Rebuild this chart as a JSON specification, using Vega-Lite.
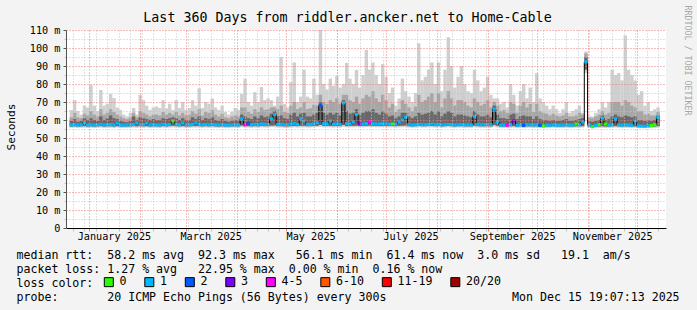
{
  "$schema": "https://vega.github.io/schema/vega-lite/v6.json",
  "width": 600,
  "height": 198,
  "autosize": {"type": "none"},
  "padding": {"left": 66, "top": 30, "right": 31, "bottom": 82},
  "background": "#f3f3f3",
  "config": {
    "view": {"fill": "#ffffff", "stroke": null},
    "font": "DejaVu Sans Mono"
  },
  "title": {
    "text": "Last 360 Days from riddler.ancker.net to Home-Cable",
    "font": "DejaVu Sans Mono",
    "fontSize": 13.3,
    "fontWeight": "normal",
    "color": "#000000",
    "anchor": "middle",
    "frame": "group",
    "dx": -18.5,
    "dy": 23,
    "offset": 4
  },
  "data": {
    "values": [
      {"t":"2024-12-21","mn":55.7,"lo":56.4,"md":57.3,"q3":59.5,"q9":61.5,"mx":65.5,"l":"1"},
      {"t":"2024-12-23","mn":55.8,"lo":56.5,"md":57.4,"q3":60.5,"q9":64,"mx":71,"l":"1"},
      {"t":"2024-12-25","mn":55.6,"lo":56.4,"md":57.2,"q3":59,"q9":61.5,"mx":65,"l":"1"},
      {"t":"2024-12-27","mn":55.7,"lo":56.5,"md":57.3,"q3":59.5,"q9":61,"mx":63,"l":"1"},
      {"t":"2024-12-29","mn":55.8,"lo":56.6,"md":58.5,"q3":61,"q9":63.5,"mx":68,"l":"1"},
      {"t":"2024-12-31","mn":55.6,"lo":56.4,"md":57.3,"q3":60,"q9":62.5,"mx":67,"l":"1"},
      {"t":"2025-01-02","mn":55.7,"lo":56.5,"md":57.4,"q3":61,"q9":65,"mx":79.4,"l":"1"},
      {"t":"2025-01-04","mn":55.6,"lo":56.4,"md":57.2,"q3":60,"q9":63,"mx":68,"l":"1"},
      {"t":"2025-01-06","mn":55.7,"lo":56.5,"md":57.3,"q3":59.5,"q9":62,"mx":65,"l":"1"},
      {"t":"2025-01-08","mn":55.8,"lo":56.6,"md":57.6,"q3":62,"q9":66,"mx":76.7,"l":"1"},
      {"t":"2025-01-10","mn":55.6,"lo":56.4,"md":57.3,"q3":60,"q9":63,"mx":68,"l":"1"},
      {"t":"2025-01-12","mn":55.7,"lo":56.5,"md":57.4,"q3":61,"q9":64,"mx":69,"l":"1"},
      {"t":"2025-01-14","mn":55.7,"lo":56.5,"md":57.5,"q3":62.5,"q9":66,"mx":74.4,"l":"1"},
      {"t":"2025-01-16","mn":55.6,"lo":56.4,"md":57.3,"q3":61,"q9":64.5,"mx":72.2,"l":"1"},
      {"t":"2025-01-18","mn":55.8,"lo":56.6,"md":58.2,"q3":60.5,"q9":63,"mx":67,"l":"1"},
      {"t":"2025-01-20","mn":55.6,"lo":56.4,"md":57.2,"q3":59.5,"q9":62,"mx":65.6,"l":"1"},
      {"t":"2025-01-22","mn":55.6,"lo":56.4,"md":57.2,"q3":59,"q9":61,"mx":63,"l":"1"},
      {"t":"2025-01-24","mn":55.6,"lo":56.4,"md":57.3,"q3":58.8,"q9":60.5,"mx":62,"l":"1"},
      {"t":"2025-01-26","mn":55.7,"lo":56.5,"md":57.3,"q3":59.5,"q9":61.5,"mx":64,"l":"1"},
      {"t":"2025-01-28","mn":55.8,"lo":56.6,"md":57.5,"q3":62,"q9":64,"mx":66.7,"l":"1"},
      {"t":"2025-01-30","mn":55.7,"lo":56.5,"md":58.4,"q3":60,"q9":61.5,"mx":63,"l":"1"},
      {"t":"2025-02-01","mn":55.8,"lo":56.6,"md":57.5,"q3":61.5,"q9":65,"mx":73.9,"l":"1"},
      {"t":"2025-02-03","mn":55.7,"lo":56.5,"md":57.4,"q3":61,"q9":64,"mx":71,"l":"1"},
      {"t":"2025-02-05","mn":55.8,"lo":56.6,"md":58.3,"q3":60.5,"q9":63,"mx":68,"l":"1"},
      {"t":"2025-02-07","mn":55.6,"lo":56.4,"md":57.3,"q3":60,"q9":62,"mx":65.6,"l":"1"},
      {"t":"2025-02-09","mn":55.7,"lo":56.5,"md":57.4,"q3":60.5,"q9":63,"mx":67,"l":"1"},
      {"t":"2025-02-11","mn":55.7,"lo":56.5,"md":57.3,"q3":60,"q9":63,"mx":67.5,"l":"1"},
      {"t":"2025-02-13","mn":55.6,"lo":56.4,"md":57.3,"q3":60,"q9":62.5,"mx":66.7,"l":"1"},
      {"t":"2025-02-15","mn":55.8,"lo":56.6,"md":57.6,"q3":61,"q9":64.5,"mx":71,"l":"1"},
      {"t":"2025-02-17","mn":55.7,"lo":56.5,"md":57.3,"q3":60.5,"q9":63,"mx":66.5,"l":"1"},
      {"t":"2025-02-19","mn":55.8,"lo":56.6,"md":57.5,"q3":61,"q9":64,"mx":69,"l":"1"},
      {"t":"2025-02-21","mn":55.9,"lo":56.8,"md":59.5,"q3":61.5,"q9":63,"mx":65.6,"l":"0"},
      {"t":"2025-02-23","mn":55.8,"lo":56.6,"md":57.6,"q3":61,"q9":64.5,"mx":71,"l":"1"},
      {"t":"2025-02-25","mn":55.7,"lo":56.5,"md":57.4,"q3":60,"q9":62.5,"mx":66.7,"l":"1"},
      {"t":"2025-02-27","mn":55.8,"lo":56.6,"md":58.4,"q3":61,"q9":64,"mx":70,"l":"1"},
      {"t":"2025-03-01","mn":55.7,"lo":56.5,"md":57.3,"q3":60,"q9":62.5,"mx":65.6,"l":"1"},
      {"t":"2025-03-03","mn":55.7,"lo":56.5,"md":57.3,"q3":60,"q9":63,"mx":66.7,"l":"1"},
      {"t":"2025-03-05","mn":55.8,"lo":56.6,"md":57.6,"q3":61.5,"q9":65,"mx":71,"l":"1"},
      {"t":"2025-03-07","mn":55.8,"lo":56.6,"md":58.4,"q3":60.5,"q9":63.5,"mx":68,"l":"1"},
      {"t":"2025-03-09","mn":55.8,"lo":56.6,"md":57.6,"q3":62,"q9":66,"mx":77.6,"l":"1"},
      {"t":"2025-03-11","mn":55.7,"lo":56.5,"md":57.3,"q3":60,"q9":62.5,"mx":66.7,"l":"1"},
      {"t":"2025-03-13","mn":55.8,"lo":56.6,"md":57.5,"q3":61,"q9":64.5,"mx":70,"l":"1"},
      {"t":"2025-03-15","mn":55.7,"lo":56.5,"md":57.4,"q3":60.5,"q9":64,"mx":69,"l":"1"},
      {"t":"2025-03-17","mn":55.8,"lo":56.6,"md":57.6,"q3":61.5,"q9":65.5,"mx":72,"l":"1"},
      {"t":"2025-03-19","mn":55.7,"lo":56.5,"md":57.4,"q3":60,"q9":63,"mx":67,"l":"1"},
      {"t":"2025-03-21","mn":55.6,"lo":56.4,"md":57.3,"q3":59.5,"q9":62,"mx":65.6,"l":"1"},
      {"t":"2025-03-23","mn":55.7,"lo":56.5,"md":57.4,"q3":60.5,"q9":63.5,"mx":68,"l":"1"},
      {"t":"2025-03-25","mn":55.6,"lo":56.4,"md":57.2,"q3":59.5,"q9":61.5,"mx":64.5,"l":"1"},
      {"t":"2025-03-27","mn":55.6,"lo":56.4,"md":57.2,"q3":59,"q9":61,"mx":63,"l":"1"},
      {"t":"2025-03-29","mn":55.7,"lo":56.5,"md":57.3,"q3":59.5,"q9":62,"mx":64.5,"l":"1"},
      {"t":"2025-03-31","mn":55.7,"lo":56.5,"md":57.4,"q3":60,"q9":62.5,"mx":66.7,"l":"1"},
      {"t":"2025-04-02","mn":55.7,"lo":56.5,"md":57.3,"q3":59.5,"q9":62,"mx":65.6,"l":"1"},
      {"t":"2025-04-04","mn":56,"lo":57,"md":60.5,"q3":63,"q9":67,"mx":74.4,"l":"1"},
      {"t":"2025-04-06","mn":55.8,"lo":56.6,"md":57.3,"q3":62,"q9":67,"mx":83,"l":"4-5"},
      {"t":"2025-04-08","mn":55.8,"lo":56.6,"md":58.3,"q3":61,"q9":64.5,"mx":70,"l":"2"},
      {"t":"2025-04-10","mn":55.7,"lo":56.5,"md":57.4,"q3":60.5,"q9":63.5,"mx":68,"l":"1"},
      {"t":"2025-04-12","mn":55.8,"lo":56.6,"md":57.6,"q3":62,"q9":66,"mx":75.5,"l":"1"},
      {"t":"2025-04-14","mn":55.7,"lo":56.5,"md":57.4,"q3":61,"q9":64.5,"mx":70,"l":"1"},
      {"t":"2025-04-16","mn":55.9,"lo":56.7,"md":57.8,"q3":62.5,"q9":67,"mx":78.3,"l":"1"},
      {"t":"2025-04-18","mn":55.8,"lo":56.6,"md":57.6,"q3":61.5,"q9":65.5,"mx":71,"l":"1"},
      {"t":"2025-04-20","mn":55.8,"lo":56.6,"md":57.5,"q3":62,"q9":66,"mx":72,"l":"1"},
      {"t":"2025-04-22","mn":56,"lo":56.9,"md":60.6,"q3":63.5,"q9":67,"mx":71,"l":"1"},
      {"t":"2025-04-24","mn":56,"lo":57,"md":63,"q3":65,"q9":67,"mx":68,"l":"1"},
      {"t":"2025-04-26","mn":55.8,"lo":56.6,"md":57.6,"q3":62,"q9":66,"mx":73,"l":"1"},
      {"t":"2025-04-28","mn":55.8,"lo":56.6,"md":57.6,"q3":62.5,"q9":68,"mx":95,"l":"1"},
      {"t":"2025-04-30","mn":55.7,"lo":56.5,"md":57.4,"q3":61,"q9":64.5,"mx":69,"l":"1"},
      {"t":"2025-05-02","mn":55.7,"lo":56.5,"md":57.4,"q3":60.5,"q9":64,"mx":67,"l":"1"},
      {"t":"2025-05-04","mn":55.8,"lo":56.6,"md":57.8,"q3":63,"q9":68,"mx":81,"l":"1"},
      {"t":"2025-05-06","mn":55.9,"lo":56.7,"md":58,"q3":64,"q9":70,"mx":92,"l":"1"},
      {"t":"2025-05-08","mn":55.8,"lo":56.6,"md":57.6,"q3":62,"q9":66,"mx":70,"l":"1"},
      {"t":"2025-05-10","mn":55.9,"lo":56.8,"md":60.6,"q3":63.5,"q9":67,"mx":73,"l":"1"},
      {"t":"2025-05-12","mn":55.9,"lo":56.8,"md":59.5,"q3":64,"q9":70,"mx":88,"l":"1"},
      {"t":"2025-05-14","mn":55.8,"lo":56.6,"md":57.6,"q3":62,"q9":66,"mx":73,"l":"1"},
      {"t":"2025-05-16","mn":55.8,"lo":56.6,"md":57.5,"q3":62,"q9":66.5,"mx":72,"l":"1"},
      {"t":"2025-05-18","mn":55.9,"lo":56.7,"md":57.8,"q3":63,"q9":68.5,"mx":83,"l":"1"},
      {"t":"2025-05-20","mn":56,"lo":56.8,"md":58.5,"q3":64,"q9":68,"mx":74,"l":"1"},
      {"t":"2025-05-22","mn":56.2,"lo":57.2,"md":68,"q3":70,"q9":74,"mx":110.5,"l":"2"},
      {"t":"2025-05-24","mn":55.9,"lo":56.8,"md":58,"q3":64,"q9":70,"mx":80,"l":"1"},
      {"t":"2025-05-26","mn":55.9,"lo":56.7,"md":57.8,"q3":63,"q9":69,"mx":77,"l":"1"},
      {"t":"2025-05-28","mn":55.9,"lo":56.7,"md":59.5,"q3":64,"q9":71,"mx":83,"l":"1"},
      {"t":"2025-05-30","mn":55.8,"lo":56.6,"md":57.6,"q3":63,"q9":70,"mx":79,"l":"1"},
      {"t":"2025-06-01","mn":55.9,"lo":56.7,"md":57.8,"q3":64,"q9":72,"mx":84.5,"l":"1"},
      {"t":"2025-06-03","mn":55.8,"lo":56.6,"md":57.6,"q3":62.5,"q9":69,"mx":78,"l":"1"},
      {"t":"2025-06-05","mn":56.2,"lo":57.2,"md":69.5,"q3":71,"q9":74,"mx":80,"l":"1"},
      {"t":"2025-06-07","mn":55.9,"lo":56.7,"md":58,"q3":65,"q9":74,"mx":91.7,"l":"1"},
      {"t":"2025-06-09","mn":55.9,"lo":56.7,"md":57.8,"q3":63.5,"q9":71,"mx":83,"l":"1"},
      {"t":"2025-06-11","mn":55.9,"lo":56.8,"md":59,"q3":64,"q9":70,"mx":80,"l":"1"},
      {"t":"2025-06-13","mn":56,"lo":56.9,"md":63,"q3":66,"q9":73,"mx":87.8,"l":"1"},
      {"t":"2025-06-15","mn":55.9,"lo":56.7,"md":57.9,"q3":63,"q9":69,"mx":78,"l":"3"},
      {"t":"2025-06-17","mn":55.9,"lo":56.7,"md":57.8,"q3":64,"q9":72,"mx":85,"l":"1"},
      {"t":"2025-06-19","mn":56,"lo":56.8,"md":58,"q3":65,"q9":74,"mx":99,"l":"1"},
      {"t":"2025-06-21","mn":56,"lo":56.9,"md":59,"q3":65,"q9":73,"mx":88,"l":"4-5"},
      {"t":"2025-06-23","mn":56,"lo":56.8,"md":58,"q3":66,"q9":76,"mx":92,"l":"1"},
      {"t":"2025-06-25","mn":55.9,"lo":56.7,"md":57.8,"q3":64,"q9":72,"mx":85,"l":"1"},
      {"t":"2025-06-27","mn":55.9,"lo":56.7,"md":57.8,"q3":63,"q9":70,"mx":80,"l":"1"},
      {"t":"2025-06-29","mn":56,"lo":56.8,"md":58,"q3":65,"q9":74,"mx":91,"l":"1"},
      {"t":"2025-07-01","mn":55.9,"lo":56.7,"md":57.8,"q3":63.5,"q9":71,"mx":84,"l":"1"},
      {"t":"2025-07-03","mn":55.9,"lo":56.7,"md":57.7,"q3":62,"q9":67,"mx":75,"l":"1"},
      {"t":"2025-07-05","mn":55.9,"lo":56.7,"md":57.8,"q3":62.5,"q9":69,"mx":78,"l":"0"},
      {"t":"2025-07-07","mn":55.8,"lo":56.6,"md":57.6,"q3":61,"q9":64.5,"mx":68,"l":"1"},
      {"t":"2025-07-09","mn":55.9,"lo":56.8,"md":59,"q3":62,"q9":66,"mx":72,"l":"1"},
      {"t":"2025-07-11","mn":56,"lo":56.9,"md":60,"q3":64,"q9":71,"mx":83,"l":"1"},
      {"t":"2025-07-13","mn":56,"lo":57,"md":61.5,"q3":64,"q9":69,"mx":76,"l":"1"},
      {"t":"2025-07-15","mn":55.8,"lo":56.6,"md":57.4,"q3":62,"q9":67,"mx":73,"l":"1"},
      {"t":"2025-07-17","mn":55.7,"lo":56.5,"md":57.2,"q3":61,"q9":65,"mx":70,"l":"1"},
      {"t":"2025-07-19","mn":55.8,"lo":56.6,"md":57.3,"q3":62,"q9":67.5,"mx":75,"l":"1"},
      {"t":"2025-07-21","mn":55.9,"lo":56.7,"md":57.5,"q3":64,"q9":74,"mx":102.6,"l":"1"},
      {"t":"2025-07-23","mn":55.8,"lo":56.6,"md":57.4,"q3":63,"q9":70,"mx":82,"l":"1"},
      {"t":"2025-07-25","mn":55.8,"lo":56.6,"md":57.4,"q3":63.5,"q9":71,"mx":84,"l":"1"},
      {"t":"2025-07-27","mn":55.9,"lo":56.7,"md":57.6,"q3":64,"q9":73,"mx":88,"l":"1"},
      {"t":"2025-07-29","mn":55.9,"lo":56.7,"md":57.8,"q3":65,"q9":75,"mx":92,"l":"1"},
      {"t":"2025-07-31","mn":55.8,"lo":56.6,"md":57.4,"q3":63,"q9":70,"mx":80,"l":"1"},
      {"t":"2025-08-02","mn":55.9,"lo":56.7,"md":57.6,"q3":65,"q9":75,"mx":92,"l":"1"},
      {"t":"2025-08-04","mn":55.7,"lo":56.5,"md":57.2,"q3":62,"q9":67,"mx":76,"l":"1"},
      {"t":"2025-08-06","mn":55.8,"lo":56.6,"md":57.4,"q3":63.5,"q9":72,"mx":88,"l":"1"},
      {"t":"2025-08-08","mn":55.9,"lo":56.7,"md":57.5,"q3":65,"q9":76,"mx":106,"l":"1"},
      {"t":"2025-08-10","mn":55.8,"lo":56.6,"md":57.4,"q3":64,"q9":72,"mx":90,"l":"1"},
      {"t":"2025-08-12","mn":55.7,"lo":56.5,"md":57.2,"q3":62,"q9":68,"mx":78,"l":"1"},
      {"t":"2025-08-14","mn":55.8,"lo":56.6,"md":57.3,"q3":63,"q9":71,"mx":84,"l":"1"},
      {"t":"2025-08-16","mn":55.8,"lo":56.6,"md":57.4,"q3":63,"q9":71,"mx":90,"l":"1"},
      {"t":"2025-08-18","mn":55.7,"lo":56.5,"md":57.3,"q3":62.5,"q9":70,"mx":80,"l":"1"},
      {"t":"2025-08-20","mn":55.7,"lo":56.5,"md":57.4,"q3":62,"q9":68,"mx":76,"l":"1"},
      {"t":"2025-08-22","mn":55.7,"lo":56.5,"md":57.3,"q3":61.5,"q9":67,"mx":75,"l":"1"},
      {"t":"2025-08-24","mn":56,"lo":56.9,"md":62,"q3":65,"q9":72,"mx":88,"l":"1"},
      {"t":"2025-08-26","mn":55.8,"lo":56.6,"md":57.6,"q3":63,"q9":70,"mx":82,"l":"1"},
      {"t":"2025-08-28","mn":55.7,"lo":56.5,"md":57.4,"q3":62,"q9":68,"mx":76,"l":"1"},
      {"t":"2025-08-30","mn":55.7,"lo":56.5,"md":57.4,"q3":62,"q9":69,"mx":78,"l":"1"},
      {"t":"2025-09-01","mn":55.8,"lo":56.6,"md":57.5,"q3":63,"q9":71,"mx":84,"l":"1"},
      {"t":"2025-09-03","mn":55.7,"lo":56.5,"md":57.4,"q3":61.5,"q9":67,"mx":74,"l":"1"},
      {"t":"2025-09-05","mn":56.2,"lo":57.2,"md":66,"q3":68,"q9":70,"mx":72,"l":"1"},
      {"t":"2025-09-07","mn":55.9,"lo":56.8,"md":59,"q3":63,"q9":68,"mx":72,"l":"1"},
      {"t":"2025-09-09","mn":55.6,"lo":56.4,"md":57.1,"q3":61,"q9":65,"mx":69,"l":"1"},
      {"t":"2025-09-11","mn":55.6,"lo":56.4,"md":57.2,"q3":61,"q9":65.5,"mx":70,"l":"1"},
      {"t":"2025-09-13","mn":55.6,"lo":56.4,"md":57.1,"q3":60.5,"q9":64,"mx":67,"l":"4-5"},
      {"t":"2025-09-15","mn":55.7,"lo":56.5,"md":57.4,"q3":63,"q9":70,"mx":80,"l":"1"},
      {"t":"2025-09-17","mn":55.8,"lo":56.6,"md":59.5,"q3":63.5,"q9":69,"mx":74,"l":"3"},
      {"t":"2025-09-19","mn":55.6,"lo":56.4,"md":57,"q3":60.5,"q9":64,"mx":68,"l":"1"},
      {"t":"2025-09-21","mn":55.7,"lo":56.5,"md":57.3,"q3":62,"q9":68,"mx":76,"l":"1"},
      {"t":"2025-09-23","mn":55.6,"lo":56.4,"md":57,"q3":62.5,"q9":70,"mx":80,"l":"2"},
      {"t":"2025-09-25","mn":55.7,"lo":56.5,"md":57.4,"q3":62,"q9":67,"mx":72,"l":"1"},
      {"t":"2025-09-27","mn":55.7,"lo":56.5,"md":57.3,"q3":62,"q9":69,"mx":78,"l":"1"},
      {"t":"2025-09-29","mn":55.6,"lo":56.4,"md":57.2,"q3":60.5,"q9":64.5,"mx":70,"l":"1"},
      {"t":"2025-10-01","mn":55.7,"lo":56.5,"md":57.4,"q3":62,"q9":69,"mx":86,"l":"1"},
      {"t":"2025-10-03","mn":55.6,"lo":56.3,"md":57,"q3":60.5,"q9":65,"mx":72,"l":"2"},
      {"t":"2025-10-05","mn":55.5,"lo":56.2,"md":56.6,"q3":60,"q9":64,"mx":70,"l":"0"},
      {"t":"2025-10-07","mn":55.6,"lo":56.4,"md":57.2,"q3":60,"q9":63.5,"mx":68,"l":"1"},
      {"t":"2025-10-09","mn":55.6,"lo":56.4,"md":57.1,"q3":59.5,"q9":62.5,"mx":66,"l":"1"},
      {"t":"2025-10-11","mn":55.7,"lo":56.5,"md":57.3,"q3":60,"q9":63.5,"mx":68,"l":"1"},
      {"t":"2025-10-13","mn":55.6,"lo":56.4,"md":57.2,"q3":59.5,"q9":62.5,"mx":66,"l":"1"},
      {"t":"2025-10-15","mn":55.6,"lo":56.4,"md":57.2,"q3":59.5,"q9":62,"mx":64,"l":"1"},
      {"t":"2025-10-17","mn":55.6,"lo":56.4,"md":57.2,"q3":60,"q9":62.5,"mx":66,"l":"1"},
      {"t":"2025-10-19","mn":55.7,"lo":56.5,"md":57.4,"q3":60.5,"q9":64,"mx":70,"l":"1"},
      {"t":"2025-10-21","mn":55.6,"lo":56.4,"md":57.2,"q3":59.5,"q9":62,"mx":64,"l":"1"},
      {"t":"2025-10-23","mn":55.6,"lo":56.4,"md":57.2,"q3":59.5,"q9":62,"mx":65,"l":"1"},
      {"t":"2025-10-25","mn":55.7,"lo":56.5,"md":57.8,"q3":60,"q9":62.5,"mx":66,"l":"0"},
      {"t":"2025-10-27","mn":55.7,"lo":56.5,"md":57.3,"q3":60.5,"q9":64,"mx":68,"l":"1"},
      {"t":"2025-10-29","mn":55.8,"lo":56.6,"md":59,"q3":61,"q9":63,"mx":64,"l":"1"},
      {"t":"2025-10-31","mn":86,"lo":88,"md":92.3,"q3":95,"q9":97,"mx":98,"l":"1"},
      {"t":"2025-11-02","mn":55.6,"lo":56.4,"md":57.2,"q3":59.5,"q9":61.5,"mx":62,"l":"1"},
      {"t":"2025-11-04","mn":55.4,"lo":56,"md":56.3,"q3":59,"q9":61,"mx":62,"l":"0"},
      {"t":"2025-11-06","mn":55.5,"lo":56.3,"md":57,"q3":59.5,"q9":62,"mx":64,"l":"1"},
      {"t":"2025-11-08","mn":55.6,"lo":56.4,"md":57.5,"q3":60,"q9":63,"mx":66,"l":"0"},
      {"t":"2025-11-10","mn":55.7,"lo":56.5,"md":61,"q3":62.5,"q9":65,"mx":70,"l":"1"},
      {"t":"2025-11-12","mn":55.6,"lo":56.4,"md":57.8,"q3":60,"q9":63,"mx":67,"l":"0"},
      {"t":"2025-11-14","mn":55.6,"lo":56.4,"md":57.2,"q3":60.5,"q9":64,"mx":70,"l":"1"},
      {"t":"2025-11-16","mn":55.7,"lo":56.5,"md":57.3,"q3":62,"q9":70,"mx":88,"l":"1"},
      {"t":"2025-11-18","mn":55.8,"lo":56.6,"md":60.5,"q3":63,"q9":70,"mx":85,"l":"1"},
      {"t":"2025-11-20","mn":55.7,"lo":56.5,"md":57.3,"q3":62,"q9":70,"mx":86,"l":"1"},
      {"t":"2025-11-22","mn":55.6,"lo":56.4,"md":57.2,"q3":61.5,"q9":68,"mx":82,"l":"1"},
      {"t":"2025-11-24","mn":55.7,"lo":56.5,"md":57.3,"q3":62.5,"q9":71,"mx":107,"l":"1"},
      {"t":"2025-11-26","mn":55.7,"lo":56.5,"md":57.2,"q3":62,"q9":70,"mx":88,"l":"1"},
      {"t":"2025-11-28","mn":55.6,"lo":56.4,"md":57.1,"q3":61.5,"q9":68,"mx":85,"l":"1"},
      {"t":"2025-11-30","mn":55.7,"lo":56.5,"md":59.5,"q3":62,"q9":67,"mx":82,"l":"1"},
      {"t":"2025-12-02","mn":55.5,"lo":56.2,"md":56.7,"q3":60,"q9":65,"mx":74,"l":"1"},
      {"t":"2025-12-04","mn":55.5,"lo":56.2,"md":56.6,"q3":60,"q9":65,"mx":76,"l":"1"},
      {"t":"2025-12-06","mn":55.4,"lo":56.1,"md":56.5,"q3":59.5,"q9":63,"mx":68,"l":"1"},
      {"t":"2025-12-08","mn":55.5,"lo":56.2,"md":56.7,"q3":60,"q9":63.5,"mx":70,"l":"1"},
      {"t":"2025-12-10","mn":55.5,"lo":56.3,"md":57,"q3":59.5,"q9":62.5,"mx":65,"l":"0"},
      {"t":"2025-12-12","mn":55.6,"lo":56.4,"md":57.4,"q3":60,"q9":62.5,"mx":66,"l":"0"},
      {"t":"2025-12-14","mn":55.8,"lo":56.6,"md":61.4,"q3":62.5,"q9":64.5,"mx":67,"l":"1"}
    ]
  },
  "layer": [
    {
      "mark": {"type": "bar", "size": 3.4, "color": "#cfcfcf", "clip": true},
      "encoding": {
        "x": {
          "field": "t", "type": "temporal",
          "scale": {"type": "utc", "nice": false, "domain": [
            {"year": 2024, "month": 12, "date": 20, "hours": 19, "minutes": 7, "utc": true},
            {"year": 2025, "month": 12, "date": 15, "hours": 19, "minutes": 7, "utc": true}
          ]},
          "axis": {
            "orient": "bottom", "grid": true, "gridColor": "#c4c4c4", "gridDash": [1, 2],
            "tickCount": {"interval": "week", "step": 1},
            "labels": false, "ticks": true, "tickSize": 3, "tickColor": "#c4c4c4",
            "domain": false, "title": null, "zindex": 1
          }
        },
        "y": {
          "field": "mn", "type": "quantitative",
          "scale": {"domain": [0, 110], "nice": false},
          "axis": {
            "orient": "left", "grid": true, "gridColor": "#c4c4c4", "gridDash": [1, 2],
            "values": [5, 15, 25, 35, 45, 55, 65, 75, 85, 95, 105],
            "labels": false, "ticks": true, "tickSize": 2, "tickColor": "#c4c4c4",
            "domain": false, "title": null, "zindex": 1
          }
        },
        "y2": {"field": "mx"}
      }
    },
    {
      "mark": {"type": "bar", "size": 3.4, "color": "#a6a6a6", "clip": true},
      "encoding": {
        "x": {
          "field": "t", "type": "temporal",
          "axis": {
            "orient": "bottom", "grid": true, "gridColor": "#f07878", "gridDash": [1, 2],
            "tickCount": {"interval": "month", "step": 1},
            "labels": false, "ticks": true, "tickSize": 3, "tickColor": "#f07878",
            "domain": false, "title": null, "zindex": 1
          }
        },
        "y": {
          "field": "lo", "type": "quantitative",
          "axis": {
            "orient": "left", "grid": true, "gridColor": "#f07878", "gridDash": [1, 2],
            "values": [0, 10, 20, 30, 40, 50, 60, 70, 80, 90, 100, 110],
            "labelExpr": "datum.value == 0 ? '0\u00a0\u00a0' : datum.value + '\u00a0m'",
            "labelFont": "DejaVu Sans Mono", "labelFontSize": 10.2, "labelColor": "#000000",
            "labelPadding": 3, "ticks": true, "tickSize": 3, "tickColor": "#555555",
            "domain": true, "domainColor": "#555555",
            "title": "Seconds", "titleX": -55, "titleY": 96.5, "titleAngle": 270,
            "titleAlign": "center", "titleBaseline": "middle",
            "titleFont": "DejaVu Sans Mono", "titleFontSize": 11.2, "titleFontWeight": "normal",
            "titleColor": "#000000", "zindex": 1
          }
        },
        "y2": {"field": "q9"}
      }
    },
    {
      "mark": {"type": "bar", "size": 3.4, "color": "#686868", "clip": true},
      "encoding": {
        "x": {
          "field": "t", "type": "temporal",
          "axis": {
            "orient": "bottom",
            "values": [
              {"year": 2025, "month": 1, "date": 16, "utc": true},
              {"year": 2025, "month": 3, "date": 16, "utc": true},
              {"year": 2025, "month": 5, "date": 16, "utc": true},
              {"year": 2025, "month": 7, "date": 16, "utc": true},
              {"year": 2025, "month": 9, "date": 16, "utc": true},
              {"year": 2025, "month": 11, "date": 16, "utc": true}
            ],
            "format": "%B %Y",
            "labelFont": "DejaVu Sans Mono", "labelFontSize": 10.2, "labelColor": "#000000",
            "labelPadding": 3, "labelFlush": false, "labelOverlap": false,
            "ticks": false, "grid": false, "domain": true, "domainColor": "#000000",
            "title": [
              "median rtt:\u00a0\u00a058.2 ms avg\u00a0\u00a092.3 ms max\u00a0\u00a0\u00a056.1 ms min\u00a0\u00a061.4 ms now\u00a0\u00a03.0 ms sd\u00a0\u00a0\u00a019.1\u00a0\u00a0am/s",
              "packet loss: 1.27 % avg\u00a0\u00a0\u00a022.95 % max\u00a0\u00a00.00 % min\u00a0\u00a00.16 % now",
              "loss color:",
              "probe:\u00a0\u00a0\u00a0\u00a0\u00a0\u00a0\u00a020 ICMP Echo Pings (56 Bytes) every 300s\u00a0\u00a0\u00a0\u00a0\u00a0\u00a0\u00a0\u00a0\u00a0\u00a0\u00a0\u00a0\u00a0\u00a0\u00a0\u00a0\u00a0\u00a0Mon Dec 15 19:07:13 2025"
            ],
            "titleX": -50, "titleY": 30, "titleAlign": "left", "titleBaseline": "alphabetic",
            "titleFont": "DejaVu Sans Mono", "titleFontSize": 11.6, "titleFontWeight": "normal",
            "titleColor": "#000000", "titleLineHeight": 14, "zindex": 1
          }
        },
        "y": {
          "field": "lo", "type": "quantitative",
          "axis": {
            "orient": "right", "labels": false, "ticks": false, "grid": false, "domain": false,
            "title": "RRDTOOL / TOBI OETIKER", "titleAngle": 90, "titleX": 20.5, "titleY": -25,
            "titleAlign": "left", "titleBaseline": "middle",
            "titleFont": "DejaVu Sans Mono", "titleFontSize": 8.3, "titleFontWeight": "normal",
            "titleColor": "#a8a8a8"
          }
        },
        "y2": {"field": "q3"}
      }
    },
    {
      "mark": {"type": "line", "interpolate": "step", "strokeWidth": 1, "color": "#000000", "clip": true},
      "encoding": {
        "x": {"field": "t", "type": "temporal", "axis": null},
        "y": {"field": "md", "type": "quantitative", "axis": null}
      }
    },
    {
      "mark": {"type": "tick", "orient": "horizontal", "size": 3.4, "thickness": 3, "opacity": 1, "clip": true},
      "encoding": {
        "x": {"field": "t", "type": "temporal", "axis": null},
        "y": {"field": "md", "type": "quantitative", "axis": null},
        "color": {
          "field": "l", "type": "nominal",
          "scale": {
            "domain": ["0", "1", "2", "3", "4-5", "6-10", "11-19", "20/20"],
            "range": ["#26ff00", "#00b8ff", "#0059ff", "#7e00ff", "#ff00ff", "#ff5500", "#ff0000", "#a10000"]
          },
          "legend": {
            "orient": "none", "legendX": 37, "legendY": 246, "direction": "horizontal",
            "title": null, "padding": 0,
            "symbolType": "square", "symbolSize": 81, "symbolStrokeColor": "#000000", "symbolStrokeWidth": 1,
            "symbolOpacity": 1,
            "labelFont": "DejaVu Sans Mono", "labelFontSize": 11.6, "labelColor": "#000000",
            "labelOffset": 5, "columnPadding": 15.5,
            "encode": {"symbols": {"update": {"stroke": {"value": "#000000"}, "strokeWidth": {"value": 1}}}}
          }
        }
      }
    }
  ],
  "resolve": {"axis": {"x": "independent", "y": "independent"}}
}
